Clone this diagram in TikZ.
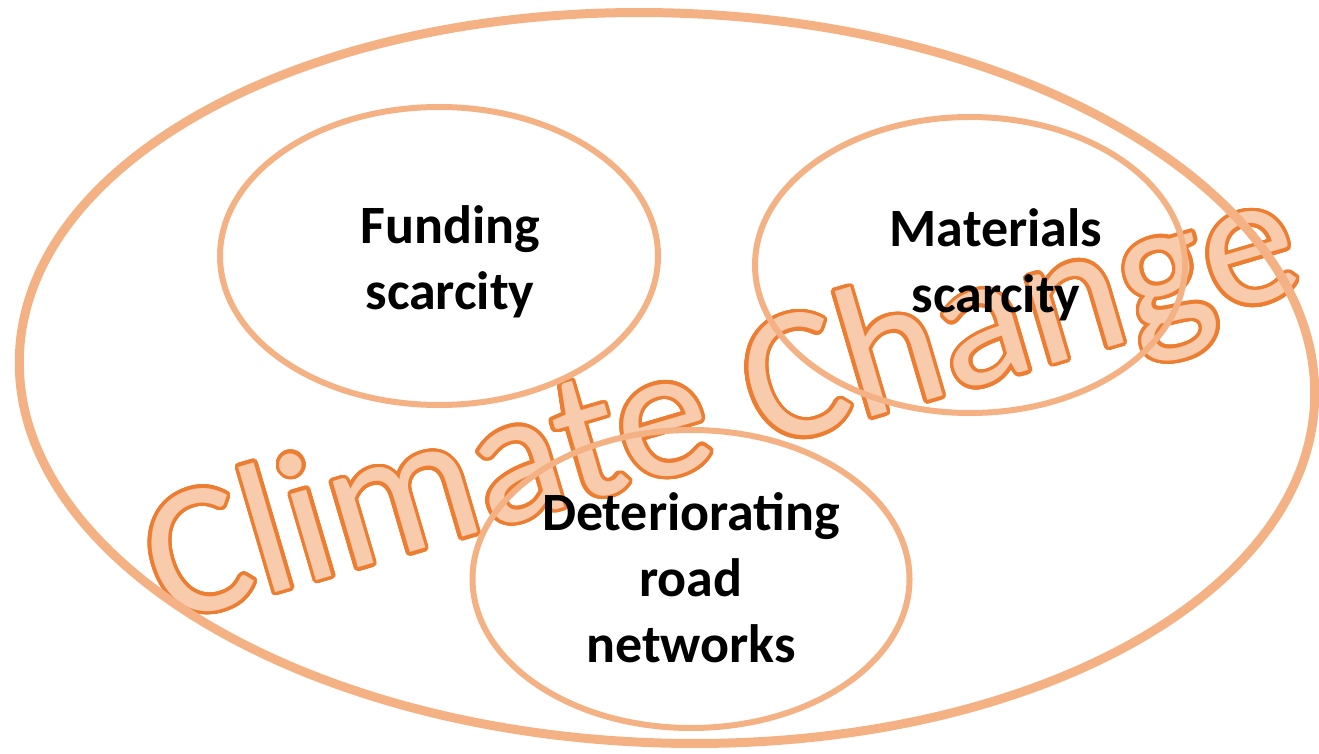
\documentclass[tikz,border=0pt]{standalone}
\usepackage{fontspec}
\setmainfont{Carlito}
\usepackage{contour}
\contourlength{3.5pt}
\contournumber{32}
\usetikzlibrary{
  positioning,
  shapes.geometric
}
\definecolor{ringpeach}{HTML}{F4B183}
\definecolor{titleline}{HTML}{ED7D31}
\definecolor{titlefill}{HTML}{F8CBAD}

\begin{document}
\begin{tikzpicture}[x=1pt,y=1pt,
    ring/.style={draw=ringpeach,line width=6pt,ellipse,inner sep=0pt},
    tag/.style={align=center,inner sep=0pt,font=\bfseries\fontsize{54}{66}\selectfont}
  ]
      \useasboundingbox (0,0) rectangle (1319,753);

      % slanted title first, the rings go over it
      \node[rotate=16.4,inner sep=0pt,text=titlefill,
        font=\fontsize{188}{188}\selectfont] (title) at (724,342)
        {\contour{titleline}{Climate Change}};

      \node[draw=ringpeach,line width=9pt,ellipse,rotate=-2,
        minimum width=1296pt,minimum height=730pt] (climate) at (667,375) {};

      \node[ring,minimum width=438pt,minimum height=298pt] (funding) at (439,497) {};
      \node[ring,minimum width=430pt,minimum height=296pt] (materials) at (970,488) {};
      \node[ring,minimum width=437pt,minimum height=298pt] (roads) at (691,174) {};

      \node[tag] (fundingtext) at (450,491) {Funding\\scarcity};
      \node[tag] (materialstext) at (996,488) {Materials\\scarcity};
      \node[tag] (roadstext) at (691,175) {Deteriorating\\road\\networks};

\end{tikzpicture}
\end{document}
